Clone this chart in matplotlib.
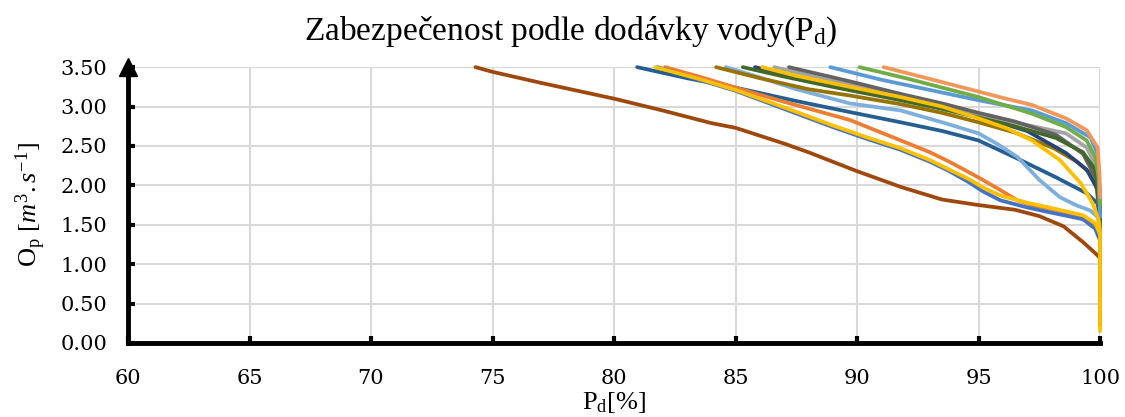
import matplotlib
matplotlib.use('Agg')
import matplotlib.pyplot as plt

# Hodnoty: P_d [%] a O_p [m3/s] pro každou řadu
brown_p = [74.3, 75, 77, 80, 82, 84, 85, 87, 88, 90, 91.8, 93.5, 95, 96.5, 97.5, 98.5, 99.3, 99.8, 100]
brown_q = [3.5, 3.44, 3.3, 3.1, 2.95, 2.79, 2.73, 2.53, 2.42, 2.18, 1.98, 1.82, 1.75, 1.69, 1.61, 1.48, 1.28, 1.14, 1.08]

darkblue_p = [80.95, 83, 85, 87.5, 89.7, 91.8, 93.5, 95, 96.6, 98.2, 99.45, 99.9, 100]
darkblue_q = [3.5, 3.36, 3.24, 3.07, 2.93, 2.8, 2.69, 2.57, 2.34, 2.1, 1.9, 1.77, 1.55]

blue_low_p = [81.8, 83.5, 85, 87, 89, 90.5, 91.8, 93, 93.8, 94.6, 95.2, 95.9, 97, 97.9, 99.3, 99.8, 100]
blue_low_q = [3.5, 3.34, 3.2, 2.97, 2.74, 2.58, 2.45, 2.3, 2.18, 2.04, 1.92, 1.81, 1.72, 1.66, 1.57, 1.45, 1.3]

yellow_low_p = [81.7, 83.5, 85, 87, 89, 90.5, 91.8, 93, 93.8, 94.6, 95.2, 95.9, 97, 97.9, 99.3, 99.8, 100]
yellow_low_q = [3.5, 3.35, 3.21, 2.99, 2.76, 2.6, 2.47, 2.32, 2.2, 2.08, 1.97, 1.87, 1.78, 1.72, 1.62, 1.52, 1.38]

orange_low_p = [82.1, 83.5, 85, 87, 89.7, 91.8, 93, 93.8, 95, 95.9, 96.6, 97.2, 98.3, 99.3, 99.8, 100]
orange_low_q = [3.5, 3.38, 3.24, 3.06, 2.83, 2.57, 2.42, 2.3, 2.1, 1.94, 1.81, 1.75, 1.68, 1.6, 1.5, 1.38]

lightblue_p = [84.6, 86, 87.5, 89.7, 91.8, 93.5, 95, 95.8, 96.6, 97.5, 98.35, 99, 99.6, 99.9, 100]
lightblue_q = [3.5, 3.37, 3.22, 3.04, 2.95, 2.8, 2.66, 2.52, 2.36, 2.07, 1.85, 1.75, 1.68, 1.6, 1.45]

gold_p = [84.2, 86, 88, 89.7, 91.8, 93.5, 95, 96.5, 98.1, 99.05, 99.8, 100]
gold_q = [3.5, 3.36, 3.22, 3.14, 3.03, 2.92, 2.8, 2.67, 2.47, 2.3, 2.1, 1.6]

navy_p = [85.8, 88, 90, 91.8, 93.5, 95, 97, 98.6, 99.45, 99.9, 100]
navy_q = [3.5, 3.34, 3.2, 3.1, 3.0, 2.88, 2.69, 2.41, 2.2, 1.95, 1.6]

darkgreen_p = [85.3, 87, 89, 91.8, 93.5, 95, 96.5, 98.2, 99.3, 99.8, 100, 100]
darkgreen_q = [3.5, 3.38, 3.25, 3.08, 2.97, 2.86, 2.75, 2.6, 2.42, 2.2, 1.75, 0.22]

gray_p = [86.6, 88.5, 91, 93, 95, 96.5, 98.6, 99.45, 99.9, 100, 100]
gray_q = [3.5, 3.36, 3.19, 3.04, 2.88, 2.8, 2.66, 2.48, 2.2, 1.95, 1.6]

darkgray_p = [87.2, 89.7, 91.8, 93.5, 95, 96.5, 98.2, 99.3, 99.9, 100]
darkgray_q = [3.5, 3.32, 3.16, 3.04, 2.92, 2.81, 2.64, 2.4, 2.05, 1.7]

yellow_up_p = [86.1, 87.5, 89.7, 91.8, 93.5, 95, 96.2, 97.2, 98.35, 99.2, 99.7, 99.95, 100, 100]
yellow_up_q = [3.5, 3.39, 3.25, 3.12, 3.0, 2.85, 2.72, 2.57, 2.32, 2.03, 1.77, 1.55, 1.4, 0.15]

blue_up_p = [88.9, 91, 93, 95, 97.2, 98.6, 99.6, 99.9, 100]
blue_up_q = [3.5, 3.34, 3.21, 3.08, 2.95, 2.79, 2.61, 2.4, 1.6]

green_p = [90.1, 92, 95, 97.2, 98.6, 99.45, 99.8, 99.95, 100]
green_q = [3.5, 3.36, 3.12, 2.91, 2.74, 2.57, 2.36, 2.1, 1.75]

lorange_p = [91.1, 93, 95, 96, 97.2, 98.6, 99.45, 99.9, 99.98, 100]
lorange_q = [3.5, 3.35, 3.19, 3.11, 3.02, 2.85, 2.7, 2.48, 2.15, 1.85]

series = [
    (brown_p, brown_q, '#9E480E'),
    (darkblue_p, darkblue_q, '#255E91'),
    (lightblue_p, lightblue_q, '#7CAFDD'),
    (gold_p, gold_q, '#997300'),
    (navy_p, navy_q, '#264478'),
    (gray_p, gray_q, '#A5A5A5'),
    (darkgray_p, darkgray_q, '#636363'),
    (darkgreen_p, darkgreen_q, '#43682B'),
    (blue_up_p, blue_up_q, '#5B9BD5'),
    (green_p, green_q, '#70AD47'),
    (lorange_p, lorange_q, '#F1975A'),
    (orange_low_p, orange_low_q, '#ED7D31'),
    (blue_low_p, blue_low_q, '#4472C4'),
    (yellow_low_p, yellow_low_q, '#FFC000'),
    (yellow_up_p, yellow_up_q, '#FFC000'),
]

x_ticks = [60, 65, 70, 75, 80, 85, 90, 95, 100]
y_ticks = [0.0, 0.5, 1.0, 1.5, 2.0, 2.5, 3.0, 3.5]

plt.rcParams['font.family'] = ['Liberation Serif', 'DejaVu Serif']
plt.rcParams['mathtext.fontset'] = 'custom'
plt.rcParams['mathtext.rm'] = 'Liberation Serif'
plt.rcParams['mathtext.it'] = 'Liberation Serif:italic'

fig = plt.figure(figsize=(11.25, 4.17), dpi=100)
ax = fig.add_axes([0.1138, 0.1775, 0.864, 0.6615])

for p, q, c in series:
    ax.plot(p, q, color=c, lw=2.7, solid_capstyle='round', clip_on=False, zorder=3)

ax.set_xlim(60, 100)
ax.set_ylim(0, 3.5)
ax.set_xticks(x_ticks)
ax.set_yticks(y_ticks)
ax.set_xticklabels([str(v) for v in x_ticks], family='DejaVu Serif', fontsize=15)
ax.set_yticklabels(['%.2f' % v for v in y_ticks], family='DejaVu Serif', fontsize=15)
ax.grid(True, color='#D9D9D9', lw=1.5, zorder=0)
ax.set_axisbelow(True)

for s in ['top', 'right']:
    ax.spines[s].set_visible(False)
for s in ['left', 'bottom']:
    ax.spines[s].set_linewidth(3.5)
    ax.spines[s].set_color('black')
    ax.spines[s].set_zorder(5)
ax.tick_params(axis='x', direction='in', length=5, width=3, pad=19, color='black')
ax.tick_params(axis='y', direction='in', length=5, width=3, pad=15, color='black')

# sipka na ose y
ax.plot([0], [1.0], marker='^', color='black', markersize=13, transform=ax.transAxes,
        clip_on=False, zorder=6)

fig.text(0.507, 0.904, r'Zabezpečenost podle dodávky vody(P$_\mathrm{d}$)',
         fontsize=24, ha='center', va='baseline')
fig.text(0.027, 0.51, r'O$_\mathrm{p}$ [$m^3.s^{-1}$]', fontsize=19,
         rotation=90, ha='center', va='center')
fig.text(0.546, 0.02, r'P$_\mathrm{d}$[%]', fontsize=19, ha='center', va='baseline')

fig.savefig('out.png', dpi=100)
